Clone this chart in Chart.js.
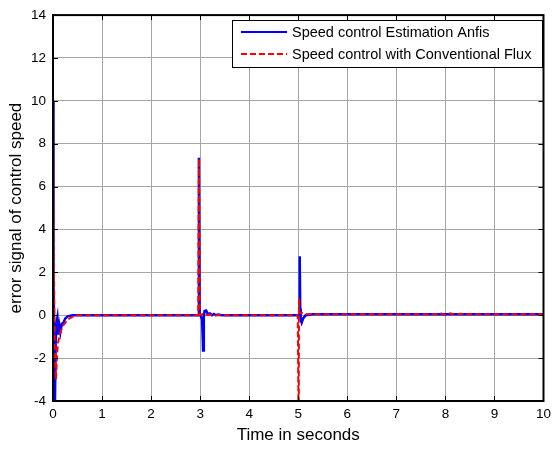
<!DOCTYPE html>
<html>
<head>
<meta charset="utf-8">
<script src="https://cdn.jsdelivr.net/npm/chart.js@4/dist/chart.umd.min.js"></script>
<style>
  html, body { margin: 0; padding: 0; background: #fff; }
  #wrap { width: 556px; height: 450px; }
</style>
</head>
<body>
<div id="wrap"><canvas id="err"></canvas></div>
<script>
// time (s) and error values
const anfisT = [0, 0.005, 0.015, 0.025, 0.04, 0.055, 0.075, 0.09, 0.11, 0.13, 0.15, 0.18, 0.21, 0.25, 0.3, 0.4, 0.5,
  2.96, 2.975, 2.99, 3.01, 3.04, 3.06, 3.075, 3.09, 3.12, 3.16, 3.2, 3.24, 3.28, 3.32, 3.36, 3.45,
  4.99, 5.02, 5.03, 5.04, 5.05, 5.07, 5.1, 5.15, 5.3, 7, 10];
const anfisY = [10, 5, 1.5, -0.9, -4, -1.2, -0.3, -0.1, -0.9, -0.5, -0.8, -0.4, -0.35, -0.15, -0.05, 0, 0,
  0, 7.35, 0.1, 0, -0.2, -1.65, -0.1, 0.2, 0.22, 0.05, 0.08, 0, 0.06, 0, 0.03, 0,
  0, 0, 2.75, 0.3, -0.2, -0.35, -0.15, 0, 0.05, 0.05, 0.05];

const convT = [0, 0.008, 0.02, 0.035, 0.06, 0.08, 0.1, 0.15, 0.2, 0.3, 0.45,
  2.96, 2.975, 2.99, 3.02, 3.05, 3.1, 3.2, 3.3,
  4.99, 5.01, 5.015, 5.02, 5.025, 5.04, 5.08, 5.15, 5.3,
  7.8, 7.9, 8.0, 8.1, 8.2, 8.3, 8.5, 10];
const convY = [10, 5.3, 2, -1.5, -3, -2, -1.3, -0.8, -0.5, -0.2, 0,
  0, 7.3, 0.05, 0, 0.05, 0, 0.03, 0,
  0, -6, 0.8, 0.6, 0.2, 0.1, 0.1, 0.05, 0.05,
  0.05, 0.1, 0.0, 0.09, 0.02, 0.07, 0.05, 0.05];

const seriesNames = ['Speed control Estimation Anfis', 'Speed control with Conventional Flux'];

const pts = (t, y) => t.map((v, i) => ({ x: v, y: y[i] }));

// MATLAB-style frame: box, inward ticks, legend inside the axes
const matlabFrame = {
  id: 'matlabFrame',
  afterDraw(chart) {
    const { ctx, chartArea: a, scales } = chart;
    ctx.save();
    ctx.strokeStyle = '#000';
    ctx.lineWidth = 1;
    ctx.beginPath();
    scales.x.ticks.forEach(t => {
      const px = Math.round(scales.x.getPixelForValue(t.value)) + 0.5;
      ctx.moveTo(px, a.bottom); ctx.lineTo(px, a.bottom - 5);
      ctx.moveTo(px, a.top); ctx.lineTo(px, a.top + 5);
    });
    scales.y.ticks.forEach(t => {
      const py = Math.round(scales.y.getPixelForValue(t.value)) + 0.5;
      ctx.moveTo(a.left, py); ctx.lineTo(a.left + 5, py);
      ctx.moveTo(a.right, py); ctx.lineTo(a.right - 5, py);
    });
    ctx.stroke();
    ctx.lineWidth = 2;
    ctx.strokeRect(a.left, a.top, a.right - a.left, a.bottom - a.top);

    // legend
    const lx = 232, ly = 20, lw = 310, lh = 47;
    ctx.fillStyle = '#fff';
    ctx.fillRect(lx, ly, lw, lh);
    ctx.lineWidth = 1;
    ctx.strokeRect(lx + 0.5, ly + 0.5, lw, lh);
    ctx.font = '14.5px "Liberation Sans", Arial, sans-serif';
    ctx.textBaseline = 'middle';
    chart.data.datasets.slice().sort((p, q) => p.legendIdx - q.legendIdx).forEach((ds, i) => {
      const y = ly + 12 + i * 22;
      ctx.strokeStyle = ds.borderColor;
      ctx.lineWidth = 2;
      ctx.setLineDash(ds.borderDash || []);
      ctx.beginPath();
      ctx.moveTo(241, y); ctx.lineTo(287, y);
      ctx.stroke();
      ctx.setLineDash([]);
      ctx.fillStyle = '#000';
      ctx.fillText(ds.label, 292, y + 1);
    });
    ctx.restore();
  }
};

new Chart(document.getElementById('err'), {
  type: 'line',
  data: {
    datasets: [
      {
        label: seriesNames[1],
        data: pts(convT, convY),
        borderColor: '#ff0000',
        borderWidth: 2,
        borderDash: [6, 3],
        pointRadius: 0,
        tension: 0,
        order: 0,
        legendIdx: 1
      },
      {
        label: seriesNames[0],
        data: pts(anfisT, anfisY),
        borderColor: '#0000ff',
        borderWidth: 2.5,
        pointRadius: 0,
        tension: 0,
        order: 1,
        legendIdx: 0
      }
    ]
  },
  options: {
    responsive: true,
    maintainAspectRatio: false,
    animation: false,
    layout: { padding: { top: 13, right: 8, left: 0, bottom: 0 } },
    plugins: { legend: { display: false }, tooltip: { enabled: false } },
    scales: {
      x: {
        type: 'linear',
        min: 0, max: 10,
        ticks: { stepSize: 1, color: '#000', padding: 5, font: { size: 13.5, family: '"Liberation Sans", Arial, sans-serif' } },
        grid: { color: '#a6a6a6', lineWidth: 1, drawTicks: false },
        border: { color: '#000', width: 2 },
        title: { display: true, text: 'Time in seconds', color: '#000', padding: { top: 4 }, font: { size: 17, family: '"Liberation Sans", Arial, sans-serif' } },
        afterFit(s) { s.height = 49; }
      },
      y: {
        min: -4, max: 14,
        ticks: { stepSize: 2, color: '#000', padding: 7, font: { size: 13.5, family: '"Liberation Sans", Arial, sans-serif' } },
        grid: { color: '#a6a6a6', lineWidth: 1, drawTicks: false },
        border: { color: '#000', width: 2 },
        title: { display: true, text: 'error signal of control speed', color: '#000', padding: { top: 6 }, font: { size: 17, family: '"Liberation Sans", Arial, sans-serif' } },
        afterFit(s) { s.width = 53; }
      }
    }
  },
  plugins: [matlabFrame]
});
</script>
</body>
</html>
